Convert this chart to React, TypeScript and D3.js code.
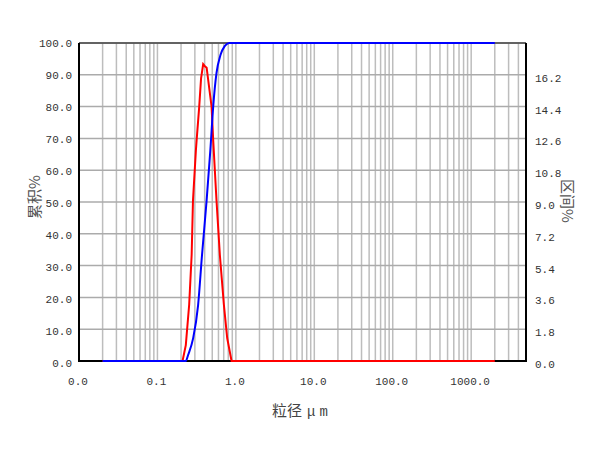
import React from "react";
import * as d3 from "d3";

const xTickValues = [0.01, 0.1, 1, 10, 100, 1000];
const xTickLabels = ["0.0", "0.1", "1.0", "10.0", "100.0", "1000.0"];
const leftTicks = [0, 10, 20, 30, 40, 50, 60, 70, 80, 90, 100];
const rightTicks = [0, 1.8, 3.6, 5.4, 7.2, 9.0, 10.8, 12.6, 14.4, 16.2];

// cumulative % (blue)
const cumSizes = [0.02, 0.23, 0.246, 0.285, 0.33, 0.37, 0.424, 0.473, 0.514, 0.566, 0.636, 0.72, 0.822, 2000];
const cumValues = [0, 0, 1.9, 7.1, 17.6, 33.3, 50.6, 66.4, 80, 90.5, 96.2, 99, 100, 100];

// interval % (red)
const freqSizes = [0.02, 0.209, 0.23, 0.254, 0.273, 0.284, 0.309, 0.316, 0.341, 0.36, 0.383, 0.4, 0.424, 0.49, 0.514, 0.566, 0.625, 0.703, 0.775, 0.881, 2000];
const freqValues = [0, 0, 0.9, 3.2, 6.0, 9.1, 11.9, 12.5, 14.4, 16.0, 16.8, 16.7, 16.6, 14.4, 12.5, 9.1, 6.0, 3.2, 1.3, 0, 0];

const W = 600, H = 450;
const L = 79, R = 526, T = 43, B = 361;

export default function App() {
  const x = d3.scaleLog().domain([0.01, 5000]).range([L, R]);
  const yL = d3.scaleLinear().domain([0, 100]).range([B, T]);
  const yR = d3.scaleLinear().domain([0, 18]).range([B, T]);

  const minor: number[] = [];
  for (let e = -2; e <= 3; e++) {
    for (let m = 1; m <= 9; m++) {
      const v = m * Math.pow(10, e);
      if (v > 0.01 && v < 5000) minor.push(v);
    }
  }

  const cumLine = d3.line<number>().x((_, i) => x(cumSizes[i])).y((d) => yL(d)).curve(d3.curveMonotoneX);
  const freqLine = d3.line<number>().x((_, i) => x(freqSizes[i])).y((d) => yR(d));

  const font = "'Liberation Mono', 'DejaVu Sans Mono', monospace";
  const cjk = "'Noto Sans CJK SC', sans-serif";

  return (
    <svg width={W} height={H} style={{ position: "absolute", left: 0, top: 0, background: "#fff" }}>
      {/* grid */}
      {minor.map((v, i) => (
        <line key={"v" + i} x1={x(v)} x2={x(v)} y1={T} y2={B} stroke="#bdbdbd" strokeWidth={1.5} />
      ))}
      {leftTicks.map((v, i) => (
        <line key={"h" + i} x1={L} x2={R} y1={yL(v)} y2={yL(v)} stroke="#ababab" strokeWidth={1.5} />
      ))}
      {/* frame */}
      <line x1={L} x2={R} y1={T} y2={T} stroke="#444" strokeWidth={1.5} />
      <line x1={L} x2={L} y1={T} y2={B} stroke="#000" strokeWidth={2} />
      <line x1={R} x2={R} y1={T} y2={B + 1} stroke="#000" strokeWidth={2} />
      <line x1={L - 1} x2={R + 1} y1={B} y2={B} stroke="#000" strokeWidth={2} />

      {/* curves */}
      <path d={freqLine(freqValues) || ""} fill="none" stroke="#ff0000" strokeWidth={2} />
      <path d={cumLine(cumValues) || ""} fill="none" stroke="#0000ff" strokeWidth={2} />

      {/* left ticks */}
      {leftTicks.map((v, i) => (
        <text key={"lt" + i} x={72} y={yL(v) + 4 + (100 - v) * 0.02} textAnchor="end" fontFamily={font} fontSize={11} fill="#333">
          {v.toFixed(1)}
        </text>
      ))}
      {/* right ticks */}
      {rightTicks.map((v, i) => (
        <text key={"rt" + i} x={535} y={yR(v) + 7} textAnchor="start" fontFamily={font} fontSize={11} fill="#333">
          {v.toFixed(1)}
        </text>
      ))}
      {/* bottom ticks */}
      {xTickValues.map((v, i) => (
        <text key={"bt" + i} x={x(v) - 1} y={385} textAnchor="middle" fontFamily={font} fontSize={11} fill="#333">
          {xTickLabels[i]}
        </text>
      ))}

      {/* titles */}
      <text x={302} y={416} textAnchor="middle" fontFamily={cjk} fontSize={15} fill="#444">
        粒径<tspan fontFamily={font} fontSize={14} letterSpacing={4} dx={5}>μm</tspan>
      </text>
      <text transform="translate(40,197) rotate(-90)" textAnchor="middle" fontFamily={cjk} fontSize={15} fill="#555">
        累积%
      </text>
      <text transform="translate(562,201) rotate(90)" textAnchor="middle" fontFamily={cjk} fontSize={15} fill="#555">
        区间%
      </text>
    </svg>
  );
}
